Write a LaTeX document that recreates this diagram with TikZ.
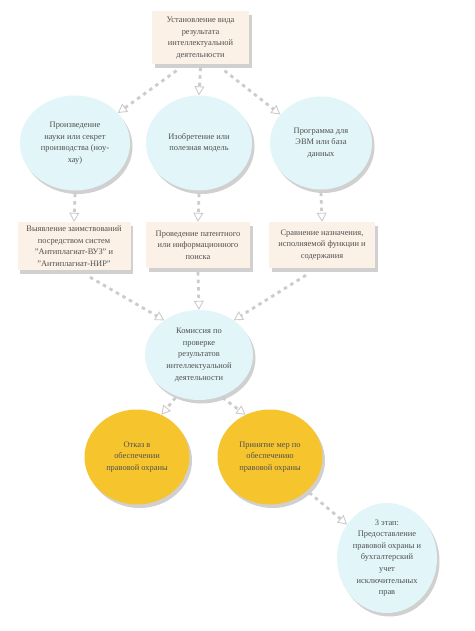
\documentclass[tikz,border=0pt]{standalone}
\usepackage{fontspec}
\setmainfont{Liberation Serif}
\usetikzlibrary{shapes.geometric,shadows,arrows.meta}
\definecolor{bluefill}{HTML}{E2F5F8}
\definecolor{goldfill}{HTML}{F6C52E}
\definecolor{beigefill}{HTML}{FBF1E6}
\definecolor{txt}{HTML}{505050}
\tikzset{
  every node/.style={font=\fontsize{8.4}{11.6}\selectfont, text=txt, align=center, inner sep=0pt},
  shad/.style={drop shadow={opacity=0.3, shadow xshift=2.5pt, shadow yshift=-3.5pt, fill=black!60}},
  bluee/.style={ellipse, fill=bluefill, shad},
  golde/.style={ellipse, fill=goldfill, shad},
  beigebox/.style={rectangle, fill=beigefill, shad},
  conn/.style={draw=black!20, line width=2.8pt, dash pattern=on 3.5pt off 4pt,
    -{Triangle[length=9pt,width=10pt,fill=white,line width=0.9pt]}},
}
\begin{document}
\begin{tikzpicture}[x=1pt,y=-1pt]
\useasboundingbox (0,0) rectangle (474,631);
\fill[white] (0,0) rectangle (474,631);

\node[beigebox, minimum width=97pt, minimum height=53pt] (top) at (200.5,38)
  {Установление вида\\результата\\интеллектуальной\\деятельности};

\node[bluee, minimum width=110pt, minimum height=95pt] (e1) at (75,143)
  {Произведение\\науки или секрет\\производства (ноу-\\хау)};
\node[bluee, minimum width=106pt, minimum height=95pt] (e2) at (199,143)
  {Изобретение или\\полезная модель};
\node[bluee, minimum width=102pt, minimum height=93pt] (e3) at (321,143)
  {Программа для\\ЭВМ или база\\данных};

\node[beigebox, minimum width=113pt, minimum height=48pt] (b1) at (74,246)
  {Выявление заимствований\\посредством систем\\"Антиплагиат-ВУЗ" и\\"Антиплагиат-НИР"};
\node[beigebox, minimum width=104pt, minimum height=46pt] (b2) at (198,245)
  {Проведение патентного\\или информационного\\поиска};
\node[beigebox, minimum width=106pt, minimum height=46pt] (b3) at (322,245)
  {Сравнение назначения,\\исполняемой функции и\\содержания};

\node[bluee, minimum width=108pt, minimum height=90pt] (c) at (199,355)
  {Комиссия по\\проверке\\результатов\\интеллектуальной\\деятельности};

\node[golde, minimum width=105pt, minimum height=95pt] (g1) at (137,457)
  {Отказ в\\обеспечении\\правовой охраны};
\node[golde, minimum width=105pt, minimum height=95pt] (g2) at (270,457)
  {Принятие мер по\\обеспечению\\правовой охраны};

\node[bluee, minimum width=100pt, minimum height=110pt] (f) at (387,558)
  {3 этап:\\Предоставление\\правовой охраны и\\бухгалтерский\\учет\\исключительных\\прав};

\draw[conn] ([xshift=-24pt,yshift=-6pt]top.south) -- (e1.35);
\draw[conn] ([yshift=-3pt]top.south) -- (e2.north);
\draw[conn] ([xshift=24pt,yshift=-6pt]top.south) -- (e3.145);

\draw[conn] ([yshift=-3pt]e1.south) -- (b1.north);
\draw[conn] ([yshift=-3pt]e2.south) -- (b2.north);
\draw[conn] ([yshift=-3pt]e3.south) -- (b3.north);

\draw[conn] ([xshift=16pt,yshift=-7pt]b1.south) -- (c.135);
\draw[conn] ([yshift=-4pt]b2.south) -- (c.north);
\draw[conn] ([xshift=-16pt,yshift=-7pt]b3.south) -- (c.45);

\draw[conn] ([yshift=-2pt]c.240) -- (g1.60);
\draw[conn] ([yshift=-2pt]c.300) -- (g2.120);
\draw[conn] ([xshift=2pt,yshift=-2pt]g2.-42) -- (f.140);
\end{tikzpicture}
\end{document}
